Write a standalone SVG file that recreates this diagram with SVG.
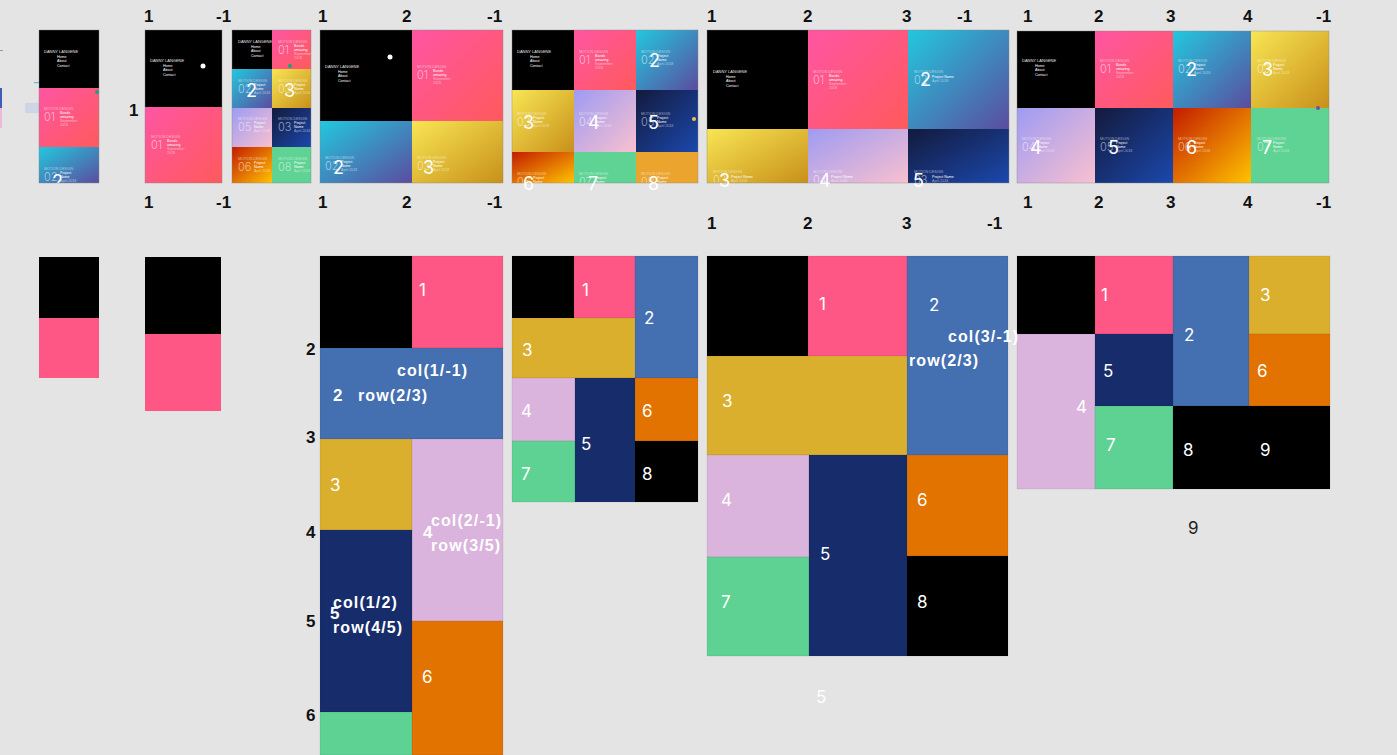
<svg xmlns="http://www.w3.org/2000/svg" width="1397" height="755" viewBox="0 0 1397 755">
<defs>
<style>
.ax{font-family:"Liberation Sans",Arial,sans-serif;font-weight:bold;font-size:17px;fill:#111}
.n{font-family:Inter,Roboto,sans-serif;font-size:17px;fill:#fff}
.nb{font-family:"Liberation Sans",Arial,sans-serif;font-weight:bold;font-size:17px;fill:#fff}
.lb{font-family:"Liberation Sans",Arial,sans-serif;font-weight:bold;font-size:16px;letter-spacing:1.1px;fill:#fff}
.ov{font-family:Inter,Roboto,sans-serif;font-size:18px;fill:#fff}
.md{font-family:"Liberation Sans",Arial,sans-serif;font-size:3.6px;fill:#fff;fill-opacity:.55}
.mt{font-family:"Liberation Sans",Arial,sans-serif;font-size:3.6px;fill:#fff}
.mt2{font-family:"Liberation Sans",Arial,sans-serif;font-size:3.6px;fill:#fff;fill-opacity:.55}
.nn{font-family:Inter,Roboto,sans-serif;font-weight:300;font-size:11px;fill:#fff;fill-opacity:.55}
.mn{font-family:"Liberation Sans",Arial,sans-serif;font-size:4px;fill:#e6e6e6}
.ol{fill:none;stroke:#8a8a8a;stroke-opacity:.5;stroke-width:.8}
.c{stroke:#000;stroke-opacity:.12;stroke-width:.6}
</style>
<linearGradient id="gP" x1="0" y1="0" x2="1" y2="1"><stop offset="0" stop-color="#ff55a3"/><stop offset="1" stop-color="#ff5a5c"/></linearGradient>
<linearGradient id="gB" x1="0" y1="0" x2="1" y2="1"><stop offset="0" stop-color="#22c8dd"/><stop offset="1" stop-color="#5b4c9f"/></linearGradient>
<linearGradient id="gY" x1="0" y1="0" x2="1" y2="1"><stop offset="0" stop-color="#f8e553"/><stop offset="1" stop-color="#c8901a"/></linearGradient>
<linearGradient id="gL" x1="0" y1="0" x2="1" y2="1"><stop offset="0" stop-color="#9e9bf3"/><stop offset="1" stop-color="#f9c0cf"/></linearGradient>
<linearGradient id="gN" x1="0" y1="0" x2="1" y2="1"><stop offset="0" stop-color="#131a3c"/><stop offset="1" stop-color="#1b48ad"/></linearGradient>
<linearGradient id="gR" x1="0" y1="0" x2="1" y2="1"><stop offset="0" stop-color="#c31c00"/><stop offset="1" stop-color="#ffc300"/></linearGradient>
<clipPath id="clA"><rect x="39" y="30" width="60" height="153"/></clipPath>
<clipPath id="clB"><rect x="145" y="30" width="77" height="153"/></clipPath>
<clipPath id="clC"><rect x="232" y="30" width="79" height="153"/></clipPath>
<clipPath id="clD"><rect x="320" y="30" width="183" height="153"/></clipPath>
<clipPath id="clE"><rect x="512" y="30" width="186" height="153"/></clipPath>
<clipPath id="clF"><rect x="707" y="30" width="302" height="153"/></clipPath>
<clipPath id="clG"><rect x="1017" y="31" width="312" height="152"/></clipPath>
<g id="menuT"><text class="mn" x="0" y="0">DANNY LANGENE</text><text class="mt" x="13" y="4.5">Home</text><text class="mt" x="13" y="9">About</text><text class="mt" x="13" y="13.5">Contact</text></g>
<g id="cB"><text class="md" x="0" y="0">MOTION DESIGN</text><text class="mt" x="16" y="4">Bands</text><text class="mt" x="16" y="8">amazing</text><text class="mt2" x="16" y="12">September</text><text class="mt2" x="16" y="16">2018</text></g>
<g id="cP"><text class="md" x="0" y="0">MOTION DESIGN</text><text class="mt" x="16" y="4">Project</text><text class="mt" x="16" y="8">Name</text><text class="mt2" x="16" y="12">April 2018</text></g>
<g id="cQ"><text class="md" x="0" y="0">MOTION DESIGN</text><text class="mt" x="18" y="5">Project Name</text><text class="mt2" x="18" y="9">April 2018</text></g>
</defs>
<rect x="0" y="0" width="1397" height="755" fill="#e4e4e4"/>

<g id="artifacts">
<rect x="0" y="88" width="2" height="20" fill="#3f5cb6"/>
<rect x="0" y="108" width="2" height="20" fill="#f0b8d8"/>
<rect x="0" y="50" width="3" height="1" fill="#999"/>
<rect x="34" y="82" width="5" height="1.2" fill="#6fb4d6"/>
<rect x="25" y="103" width="14" height="10" fill="#cfd5e6"/>
</g>

<g id="top-a">
<g clip-path="url(#clA)">
<rect x="39" y="30" width="60" height="58" fill="#000"/>
<rect x="39" y="88" width="60" height="59" fill="url(#gP)"/>
<rect x="39" y="147" width="60" height="36" fill="url(#gB)"/>
<use href="#menuT" x="44" y="53"/>
<use href="#cB" x="44" y="110"/><text class="nn" x="44" y="121">01</text>
<use href="#cP" x="44" y="170"/><text class="nn" x="44" y="181">02</text>
<text class="ov" x="52" y="188">2</text>
</g>
<rect class="ol" x="39" y="30" width="60" height="153"/>
<circle cx="97" cy="92" r="2" fill="#1aa57a"/>
</g>

<g id="top-b">
<g clip-path="url(#clB)">
<rect x="145" y="30" width="77" height="77" fill="#000"/>
<rect x="145" y="107" width="77" height="76" fill="url(#gP)"/>
<use href="#menuT" x="150" y="62"/>
<use href="#cB" x="151" y="138"/><text class="nn" x="151" y="149">01</text>
</g>
<rect class="ol" x="145" y="30" width="77" height="153"/>
<circle cx="203" cy="66" r="2.5" fill="#fff"/>
<text class="ax" x="144" y="22">1</text><text class="ax" x="216" y="22">-1</text>
<text class="ax" x="144" y="208">1</text><text class="ax" x="216" y="208">-1</text>
<text class="ax" x="129" y="116">1</text>
</g>

<g id="top-c">
<g clip-path="url(#clC)">
<rect x="232" y="30" width="40" height="39" fill="#000"/>
<rect x="272" y="30" width="39" height="39" fill="url(#gP)"/>
<rect x="232" y="69" width="40" height="39" fill="url(#gB)"/>
<rect x="272" y="69" width="39" height="39" fill="url(#gY)"/>
<rect x="232" y="108" width="40" height="39" fill="url(#gL)"/>
<rect x="272" y="108" width="39" height="39" fill="url(#gN)"/>
<rect x="232" y="147" width="40" height="36" fill="url(#gR)"/>
<rect x="272" y="147" width="39" height="36" fill="#5ed394"/>
<use href="#menuT" x="238" y="43"/>
<use href="#cB" x="278" y="43"/><text class="nn" x="278" y="54">01</text>
<use href="#cP" x="238" y="82"/><text class="nn" x="238" y="93">02</text>
<use href="#cP" x="278" y="82"/><text class="nn" x="278" y="93">03</text>
<use href="#cP" x="238" y="120"/><text class="nn" x="238" y="131">05</text>
<use href="#cP" x="278" y="120"/><text class="nn" x="278" y="131">03</text>
<use href="#cP" x="238" y="160"/><text class="nn" x="238" y="171">06</text>
<use href="#cP" x="278" y="160"/><text class="nn" x="278" y="171">08</text>
</g>
<rect class="ol" x="232" y="30" width="79" height="153"/>
<text class="ov" x="246" y="97">2</text><text class="ov" x="284" y="97">3</text>
<circle cx="290" cy="66" r="2" fill="#1aa57a"/>
</g>

<g id="top-d">
<g clip-path="url(#clD)">
<rect x="320" y="30" width="92" height="91" fill="#000"/>
<rect x="412" y="30" width="91" height="91" fill="url(#gP)"/>
<rect x="320" y="121" width="92" height="62" fill="url(#gB)"/>
<rect x="412" y="121" width="91" height="62" fill="url(#gY)"/>
<use href="#menuT" x="325" y="68"/>
<use href="#cB" x="417" y="68"/><text class="nn" x="417" y="79">01</text>
<use href="#cP" x="325" y="159"/><text class="nn" x="325" y="170">02</text>
<use href="#cP" x="417" y="159"/><text class="nn" x="417" y="170">03</text>
</g>
<rect class="ol" x="320" y="30" width="183" height="153"/>
<circle cx="390" cy="57" r="2.5" fill="#fff"/>
<text class="ov" x="333" y="174">2</text><text class="ov" x="423" y="174">3</text>
<text class="ax" x="318" y="22">1</text><text class="ax" x="402" y="22">2</text><text class="ax" x="487" y="22">-1</text>
<text class="ax" x="318" y="208">1</text><text class="ax" x="402" y="208">2</text><text class="ax" x="487" y="208">-1</text>
</g>

<g id="top-e">
<g clip-path="url(#clE)">
<rect x="512" y="30" width="62" height="60" fill="#000"/>
<rect x="574" y="30" width="62" height="60" fill="url(#gP)"/>
<rect x="636" y="30" width="62" height="60" fill="url(#gB)"/>
<rect x="512" y="90" width="62" height="62" fill="url(#gY)"/>
<rect x="574" y="90" width="62" height="62" fill="url(#gL)"/>
<rect x="636" y="90" width="62" height="62" fill="url(#gN)"/>
<rect x="512" y="152" width="62" height="31" fill="url(#gR)"/>
<rect x="574" y="152" width="62" height="31" fill="#5ed394"/>
<rect x="636" y="152" width="62" height="31" fill="#eba52e"/>
<use href="#menuT" x="517" y="53"/>
<use href="#cB" x="579" y="53"/><text class="nn" x="579" y="64">01</text>
<use href="#cP" x="641" y="53"/><text class="nn" x="641" y="64">02</text>
<use href="#cP" x="517" y="115"/><text class="nn" x="517" y="126">03</text>
<use href="#cP" x="579" y="115"/><text class="nn" x="579" y="126">04</text>
<use href="#cP" x="641" y="115"/><text class="nn" x="641" y="126">05</text>
<use href="#cP" x="517" y="175"/><text class="nn" x="517" y="186">06</text>
<use href="#cP" x="579" y="175"/><text class="nn" x="579" y="186">07</text>
<use href="#cP" x="641" y="175"/><text class="nn" x="641" y="186">08</text>
</g>
<rect class="ol" x="512" y="30" width="186" height="153"/>
<circle cx="694" cy="119" r="2" fill="#f0c24a"/>
<text class="ov" x="649" y="67">2</text>
<text class="ov" x="523" y="129">3</text><text class="ov" x="588" y="129">4</text><text class="ov" x="648" y="129">5</text>
<text class="ov" x="523" y="190">6</text><text class="ov" x="588" y="190">7</text><text class="ov" x="648" y="190">8</text>
</g>

<g id="top-f">
<g clip-path="url(#clF)">
<rect x="707" y="30" width="101" height="99" fill="#000"/>
<rect x="808" y="30" width="100" height="99" fill="url(#gP)"/>
<rect x="908" y="30" width="101" height="99" fill="url(#gB)"/>
<rect x="707" y="129" width="101" height="54" fill="url(#gY)"/>
<rect x="808" y="129" width="100" height="54" fill="url(#gL)"/>
<rect x="908" y="129" width="101" height="54" fill="url(#gN)"/>
<use href="#menuT" x="713" y="73"/>
<use href="#cB" x="813" y="73"/><text class="nn" x="813" y="84">01</text>
<use href="#cQ" x="914" y="73"/><text class="nn" x="914" y="84">02</text>
<use href="#cQ" x="713" y="173"/><text class="nn" x="713" y="184">03</text>
<use href="#cQ" x="813" y="173"/><text class="nn" x="813" y="184">04</text>
<use href="#cQ" x="914" y="173"/><text class="nn" x="914" y="184">03</text>
</g>
<rect class="ol" x="707" y="30" width="302" height="153"/>
<text class="ov" x="920" y="86">2</text>
<text class="ov" x="719" y="187">3</text><text class="ov" x="819" y="187">4</text><text class="ov" x="913" y="187">5</text>
<text class="ax" x="707" y="22">1</text><text class="ax" x="803" y="22">2</text><text class="ax" x="902" y="22">3</text><text class="ax" x="957" y="22">-1</text>
<text class="ax" x="707" y="229">1</text><text class="ax" x="803" y="229">2</text><text class="ax" x="902" y="229">3</text><text class="ax" x="987" y="229">-1</text>
</g>

<g id="top-g">
<g clip-path="url(#clG)">
<rect x="1017" y="31" width="78" height="77" fill="#000"/>
<rect x="1095" y="31" width="78" height="77" fill="url(#gP)"/>
<rect x="1173" y="31" width="78" height="77" fill="url(#gB)"/>
<rect x="1251" y="31" width="78" height="77" fill="url(#gY)"/>
<rect x="1017" y="108" width="78" height="75" fill="url(#gL)"/>
<rect x="1095" y="108" width="78" height="75" fill="url(#gN)"/>
<rect x="1173" y="108" width="78" height="75" fill="url(#gR)"/>
<rect x="1251" y="108" width="78" height="75" fill="#5ed394"/>
<use href="#menuT" x="1022" y="62"/>
<use href="#cB" x="1100" y="62"/><text class="nn" x="1100" y="73">01</text>
<use href="#cP" x="1178" y="62"/><text class="nn" x="1178" y="73">02</text>
<use href="#cP" x="1257" y="62"/><text class="nn" x="1257" y="73">03</text>
<use href="#cP" x="1022" y="140"/><text class="nn" x="1022" y="151">04</text>
<use href="#cP" x="1100" y="140"/><text class="nn" x="1100" y="151">05</text>
<use href="#cP" x="1178" y="140"/><text class="nn" x="1178" y="151">06</text>
<use href="#cP" x="1257" y="140"/><text class="nn" x="1257" y="151">07</text>
</g>
<rect class="ol" x="1017" y="31" width="312" height="152"/>
<circle cx="1318" cy="108" r="2" fill="#7b4f9c"/>
<text class="ov" x="1186" y="76">2</text><text class="ov" x="1262" y="76">3</text>
<text class="ov" x="1030" y="154">4</text><text class="ov" x="1108" y="154">5</text><text class="ov" x="1186" y="154">6</text><text class="ov" x="1262" y="154">7</text>
<text class="ax" x="1023" y="22">1</text><text class="ax" x="1094" y="22">2</text><text class="ax" x="1166" y="22">3</text><text class="ax" x="1243" y="22">4</text><text class="ax" x="1316" y="22">-1</text>
<text class="ax" x="1023" y="208">1</text><text class="ax" x="1094" y="208">2</text><text class="ax" x="1166" y="208">3</text><text class="ax" x="1243" y="208">4</text><text class="ax" x="1316" y="208">-1</text>
</g>

<g id="bottom-h">
<rect x="39" y="257" width="60" height="61" fill="#000"/>
<rect x="39" y="318" width="60" height="60" fill="#fe5786"/>
</g>

<g id="bottom-i">
<rect x="145" y="257" width="76" height="77" fill="#000"/>
<rect x="145" y="334" width="76" height="77" fill="#fe5786"/>
</g>

<g id="bottom-j">
<rect class="c" x="320" y="256" width="92" height="92" fill="#000"/>
<rect class="c" x="412" y="256" width="91" height="92" fill="#fe5786"/>
<rect class="c" x="320" y="348" width="183" height="91" fill="#446fb1"/>
<rect class="c" x="320" y="439" width="92" height="91" fill="#dbaf2e"/>
<rect class="c" x="412" y="439" width="91" height="182" fill="#dab4dc"/>
<rect class="c" x="320" y="530" width="92" height="182" fill="#172d6b"/>
<rect class="c" x="412" y="621" width="91" height="134" fill="#e27300"/>
<rect class="c" x="320" y="712" width="92" height="43" fill="#5dd293"/>
<text class="n" x="419" y="296">1</text>
<text class="nb" x="333" y="401">2</text>
<text class="lb" x="397" y="376">col(1/-1)</text>
<text class="lb" x="358" y="401">row(2/3)</text>
<text class="n" x="330" y="491">3</text>
<text class="nb" x="423" y="538">4</text>
<text class="lb" x="431" y="526">col(2/-1)</text>
<text class="lb" x="431" y="551">row(3/5)</text>
<text class="nb" x="330" y="619">5</text>
<text class="lb" x="333" y="608">col(1/2)</text>
<text class="lb" x="333" y="633">row(4/5)</text>
<text class="n" x="422" y="683">6</text>
<text class="ax" x="306" y="355">2</text>
<text class="ax" x="306" y="443">3</text>
<text class="ax" x="306" y="538">4</text>
<text class="ax" x="306" y="627">5</text>
<text class="ax" x="306" y="721">6</text>
</g>

<g id="bottom-k">
<rect class="c" x="512" y="256" width="62" height="62" fill="#000"/>
<rect class="c" x="574" y="256" width="61" height="62" fill="#fe5786"/>
<rect class="c" x="635" y="256" width="63" height="122" fill="#446fb1"/>
<rect class="c" x="512" y="318" width="123" height="60" fill="#dbaf2e"/>
<rect class="c" x="512" y="378" width="63" height="63" fill="#dab4dc"/>
<rect class="c" x="512" y="441" width="63" height="61" fill="#5dd293"/>
<rect class="c" x="575" y="378" width="60" height="124" fill="#172d6b"/>
<rect class="c" x="635" y="378" width="63" height="63" fill="#e27300"/>
<rect class="c" x="635" y="441" width="63" height="61" fill="#000"/>
<text class="n" x="582" y="296">1</text>
<text class="n" x="644" y="324">2</text>
<text class="n" x="522" y="356">3</text>
<text class="n" x="521" y="417">4</text>
<text class="n" x="581" y="450">5</text>
<text class="n" x="642" y="417">6</text>
<text class="n" x="521" y="480">7</text>
<text class="n" x="642" y="480">8</text>
</g>

<g id="bottom-l">
<rect class="c" x="707" y="256" width="101" height="100" fill="#000"/>
<rect class="c" x="808" y="256" width="99" height="100" fill="#fe5786"/>
<rect class="c" x="907" y="256" width="101" height="199" fill="#446fb1"/>
<rect class="c" x="707" y="356" width="200" height="99" fill="#dbaf2e"/>
<rect class="c" x="707" y="455" width="102" height="102" fill="#dab4dc"/>
<rect class="c" x="707" y="557" width="102" height="99" fill="#5dd293"/>
<rect class="c" x="809" y="455" width="98" height="201" fill="#172d6b"/>
<rect class="c" x="907" y="455" width="101" height="101" fill="#e27300"/>
<rect class="c" x="907" y="556" width="101" height="100" fill="#000"/>
<text class="n" x="819" y="310">1</text>
<text class="n" x="929" y="311">2</text>
<text class="n" x="722" y="407">3</text>
<text class="n" x="721" y="506">4</text>
<text class="n" x="820" y="560">5</text>
<text class="n" x="917" y="506">6</text>
<text class="n" x="721" y="608">7</text>
<text class="n" x="917" y="608">8</text>
<text class="n" x="816" y="703">5</text>
</g>

<g id="bottom-m">
<rect class="c" x="1017" y="256" width="78" height="78" fill="#000"/>
<rect class="c" x="1095" y="256" width="78" height="78" fill="#fe5786"/>
<rect class="c" x="1173" y="256" width="76" height="150" fill="#446fb1"/>
<rect class="c" x="1249" y="256" width="81" height="78" fill="#dbaf2e"/>
<rect class="c" x="1017" y="334" width="78" height="155" fill="#dab4dc"/>
<rect class="c" x="1095" y="334" width="78" height="72" fill="#172d6b"/>
<rect class="c" x="1249" y="334" width="81" height="72" fill="#e27300"/>
<rect class="c" x="1095" y="406" width="78" height="83" fill="#5dd293"/>
<rect class="c" x="1173" y="406" width="157" height="83" fill="#000"/>
<text class="n" x="1101" y="301">1</text>
<text class="n" x="1184" y="341">2</text>
<text class="n" x="1260" y="301">3</text>
<text class="n" x="1076" y="413">4</text>
<text class="n" x="1103" y="377">5</text>
<text class="n" x="1257" y="377">6</text>
<text class="n" x="1106" y="451">7</text>
<text class="n" x="1183" y="456">8</text>
<text class="n" x="1260" y="456">9</text>
<text class="n" x="1188" y="534" style="fill:#222">9</text>
</g>

<g id="overflow-labels">
<text class="lb" x="948" y="342">col(3/-1)</text>
<text class="lb" x="909" y="366">row(2/3)</text>
</g>
</svg>
